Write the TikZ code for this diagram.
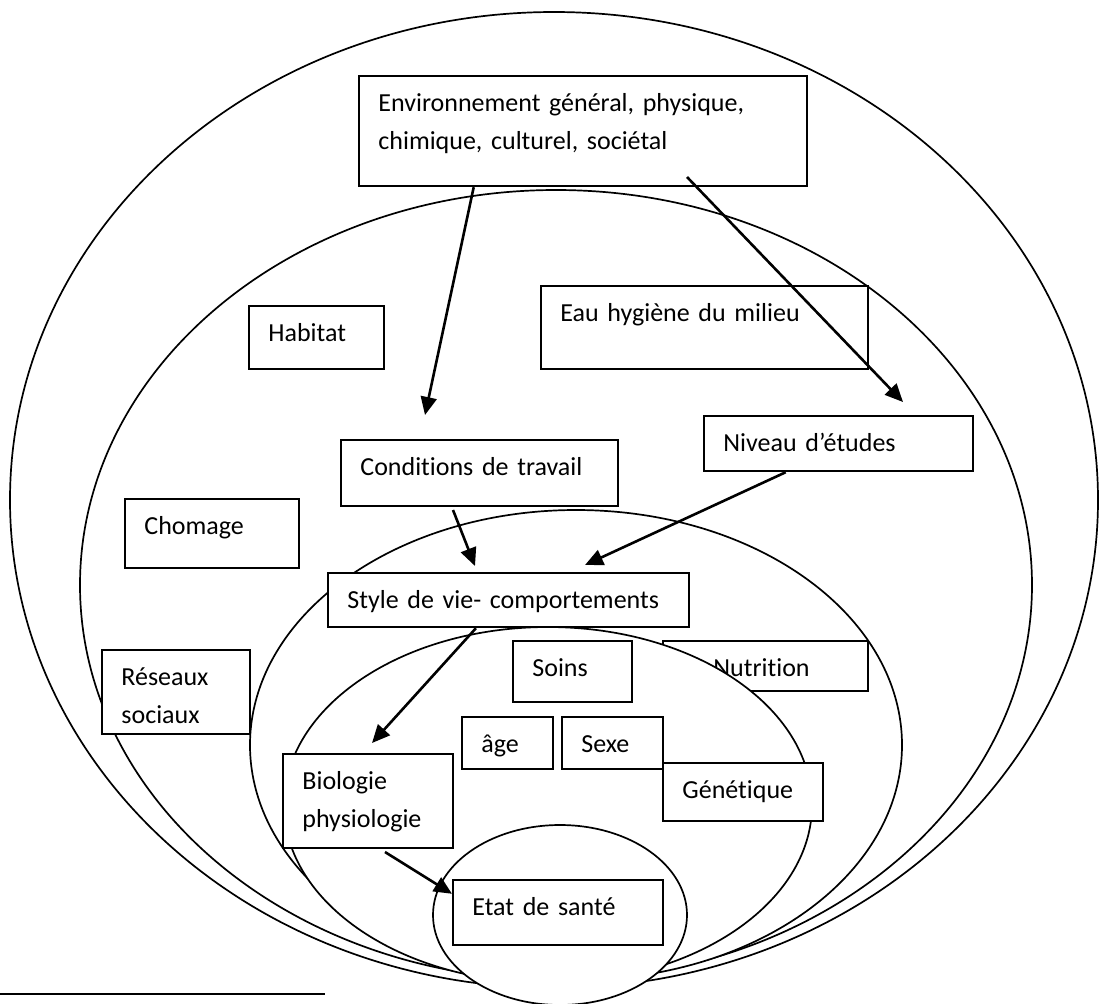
\documentclass[tikz,border=0pt]{standalone}
\usepackage{fontspec}
\setmainfont{Carlito}[Ligatures=NoCommon]
\usetikzlibrary{arrows.meta, calc}

\begin{document}
\begin{tikzpicture}[
    x=0.5pt, y=-0.5pt,
    ring/.style={draw, line width=0.85pt, fill=white},
    box/.style={draw, line width=1.1pt, fill=white, anchor=north west, inner sep=0pt},
    txt/.style={anchor=base west, inner sep=0pt, xshift=10pt, yshift=-18pt, text width=200pt, align=left, font=\fontsize{13}{19}\selectfont},
    arrow/.style={line width=1.3pt, -{Triangle[length=9pt, width=8pt]}}
]
\useasboundingbox (0,0) rectangle (1099,1003);

% Outer ring: general environment
\draw[ring] (554,500) ellipse [x radius=272pt, y radius=244pt];
\node[box, minimum width=224pt, minimum height=55pt, label={[txt]north west:Environnement général, physique,\\chimique, culturel, sociétal}] (env) at (358,75) {};

% Second ring: living conditions
\draw[ring] (556,585) ellipse [x radius=238pt, y radius=197.5pt];
\node[box, minimum width=67.5pt, minimum height=31.5pt, label={[txt]north west:Habitat}] (habitat) at (248,305) {};
\node[box, minimum width=163.5pt, minimum height=41.5pt, label={[txt]north west:Eau hygiène du milieu}] (eau) at (540,285) {};
\node[box, minimum width=134.5pt, minimum height=27.5pt, label={[txt]north west:Niveau d’études}] (niveau) at (703,415) {};
\node[box, minimum width=138.5pt, minimum height=33pt, label={[txt]north west:Conditions de travail}] (cond) at (340,439) {};
\node[box, minimum width=87pt, minimum height=34.5pt, label={[txt]north west:Chomage}] (chomage) at (124,498) {};

% Third ring: lifestyle
\draw[ring] (576,745) ellipse [x radius=163pt, y radius=117.5pt];
\node[box, minimum width=74pt, minimum height=42pt, label={[txt]north west:Réseaux\\sociaux}] (reseaux) at (101,649) {};
\node[box, minimum width=102.5pt, minimum height=25pt, label={[txt, xshift=15.5pt]north west:Nutrition}] (nutrition) at (662,640) {};

% Fourth ring: biology
\draw[ring] (548,805) ellipse [x radius=132pt, y radius=89pt];
\node[box, minimum width=180.5pt, minimum height=27pt, label={[txt]north west:Style de vie- comportements}] (style) at (327,572) {};
\node[box, minimum width=59.5pt, minimum height=30.5pt, label={[txt]north west:Soins}] (soins) at (512,640) {};
\node[box, minimum width=45.5pt, minimum height=26pt, label={[txt]north west:âge}] (age) at (461,716) {};
\node[box, minimum width=50.5pt, minimum height=26pt, label={[txt]north west:Sexe}] (sexe) at (561,716) {};
\node[box, minimum width=80pt, minimum height=29pt, label={[txt]north west:Génétique}] (genetique) at (662,762) {};
\node[box, minimum width=85pt, minimum height=47pt, label={[txt]north west:Biologie\\physiologie}] (bio) at (282,753) {};

% Centre: health
\draw[ring] (560,915) ellipse [x radius=63.5pt, y radius=45pt];
\node[box, minimum width=105pt, minimum height=32.5pt, label={[txt]north west:Etat de santé}] (etat) at (452,879) {};

% Arrow ends
\coordinate (condTip) at (425,415);
\coordinate (envOut) at (687,177);
\coordinate (nivTip) at (903,402);
\coordinate (condOut) at (453,510);
\coordinate (styleTipA) at (475,566);
\coordinate (styleTipB) at (585,565);
\coordinate (bioTip) at (372,743);
\coordinate (bioOut) at (385,852);

% Arrows
\draw[arrow] ($(env.south west)!0.257!(env.south east)$) -- (condTip);
\draw[arrow] (envOut) -- (nivTip);
\draw[arrow] (condOut) -- (styleTipA);
\draw[arrow] ($(niveau.south west)!0.305!(niveau.south east)$) -- (styleTipB);
\draw[arrow] ($(style.south west)!0.41!(style.south east)$) -- (bioTip);
\draw[arrow] (bioOut) -- ($(etat.north west)!0.22!(etat.south west)$);

% Footnote rule
\draw[line width=1pt] (0,994) -- (325,994);
\end{tikzpicture}
\end{document}
